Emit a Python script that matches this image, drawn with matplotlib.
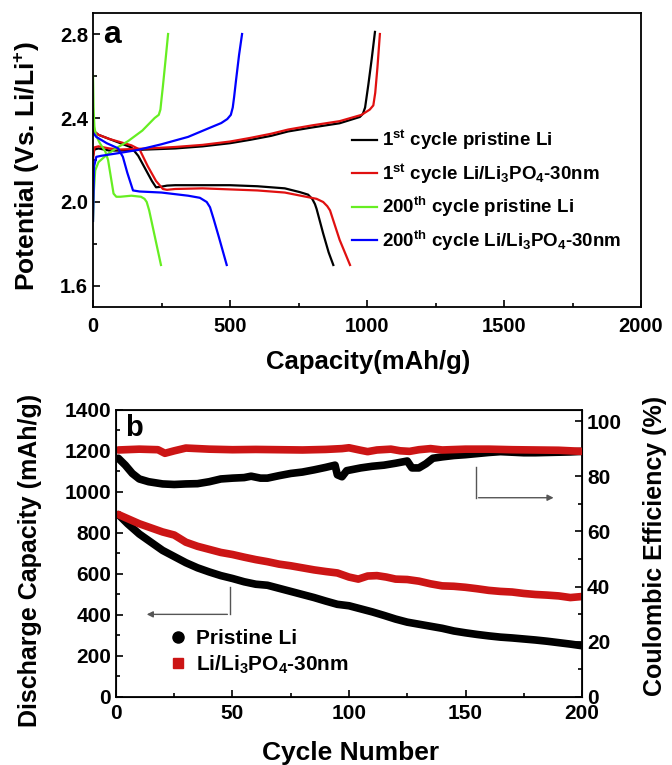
import numpy as np
import matplotlib
matplotlib.use("Agg")
import matplotlib.pyplot as plt
from matplotlib.lines import Line2D
from matplotlib.ticker import MultipleLocator

plt.rcParams['font.family'] = ['Liberation Sans', 'DejaVu Sans']
plt.rcParams['font.weight'] = 'bold'
plt.rcParams['mathtext.fontset'] = 'custom'
plt.rcParams['mathtext.rm'] = 'Liberation Sans:bold'
plt.rcParams['mathtext.bf'] = 'Liberation Sans:bold'
plt.rcParams['mathtext.default'] = 'bf'

# ---- panel a: charge / discharge profiles (capacity mAh/g, potential V)
p1_dis_cap = [0, 20, 60, 100, 140, 165, 190, 215, 230, 245, 270, 300, 400, 500, 600, 700, 755, 785, 800, 810, 816, 840, 860, 877]
p1_dis_v = [2.34, 2.32, 2.30, 2.28, 2.26, 2.22, 2.16, 2.10, 2.07, 2.072, 2.078, 2.08, 2.08, 2.08, 2.075, 2.065, 2.047, 2.035, 2.015, 1.99, 1.967, 1.85, 1.76, 1.70]
p1_chg_cap = [0, 5, 20, 60, 100, 200, 300, 400, 500, 573, 650, 712, 800, 900, 974, 985, 993, 1005, 1017, 1029]
p1_chg_v = [2.22, 2.25, 2.255, 2.245, 2.245, 2.25, 2.255, 2.265, 2.28, 2.296, 2.315, 2.336, 2.355, 2.375, 2.405, 2.42, 2.45, 2.56, 2.68, 2.81]

c1_dis_cap = [0, 20, 60, 100, 140, 170, 200, 230, 255, 270, 300, 400, 500, 600, 700, 816, 840, 855, 865, 900, 938]
c1_dis_v = [2.34, 2.32, 2.30, 2.285, 2.27, 2.25, 2.17, 2.10, 2.062, 2.058, 2.062, 2.065, 2.06, 2.055, 2.045, 2.015, 2.0, 1.98, 1.96, 1.82, 1.70]
c1_chg_cap = [0, 5, 20, 60, 100, 200, 300, 400, 500, 573, 650, 712, 800, 900, 980, 1010, 1023, 1030, 1038, 1047]
c1_chg_v = [2.20, 2.26, 2.265, 2.255, 2.25, 2.255, 2.262, 2.272, 2.288, 2.305, 2.325, 2.345, 2.365, 2.385, 2.415, 2.44, 2.46, 2.52, 2.64, 2.80]

p200_dis_cap = [0, 2, 5, 10, 25, 45, 55, 65, 75, 85, 100, 140, 175, 188, 196, 205, 248]
p200_dis_v = [2.6, 2.45, 2.36, 2.32, 2.28, 2.24, 2.20, 2.12, 2.04, 2.025, 2.025, 2.03, 2.025, 2.015, 2.0, 1.96, 1.70]
p200_chg_cap = [0, 3, 8, 20, 55, 90, 128, 180, 225, 240, 246, 250, 255, 265, 274]
p200_chg_v = [1.91, 2.05, 2.15, 2.19, 2.23, 2.26, 2.29, 2.34, 2.40, 2.415, 2.44, 2.49, 2.55, 2.68, 2.80]

c200_dis_cap = [0, 12, 50, 91, 109, 125, 146, 170, 250, 347, 390, 415, 427, 440, 460, 488]
c200_dis_v = [2.33, 2.31, 2.28, 2.256, 2.215, 2.14, 2.055, 2.05, 2.045, 2.03, 2.02, 2.0, 1.975, 1.92, 1.83, 1.70]
c200_chg_cap = [0, 4, 12, 30, 80, 164, 250, 347, 420, 468, 490, 503, 510, 515, 522, 533, 544]
c200_chg_v = [1.91, 2.17, 2.215, 2.22, 2.23, 2.248, 2.275, 2.31, 2.35, 2.376, 2.395, 2.415, 2.45, 2.50, 2.58, 2.70, 2.80]

labels_a = [r'1$^{st}$ cycle pristine Li',
            r'1$^{st}$ cycle Li/Li$_{3}$PO$_{4}$-30nm',
            r'200$^{th}$ cycle pristine Li',
            r'200$^{th}$ cycle Li/Li$_{3}$PO$_{4}$-30nm']
colors_a = ['black', '#e01010', '#66ee22', '#0000ff']

# ---- panel b: cycling data
pris_cap_cyc = [1, 5, 10, 15, 20, 25, 30, 35, 40, 45, 50, 55, 60, 65, 70, 75, 80, 85, 90, 95, 100,
                105, 110, 115, 120, 125, 130, 135, 140, 145, 150, 155, 160, 165, 170, 175, 180, 185, 190, 195, 200]
pris_cap = [890, 845, 795, 755, 715, 685, 655, 630, 610, 592, 578, 562, 550, 545, 530, 515, 500, 485, 468, 452, 445,
            430, 415, 398, 380, 365, 355, 345, 335, 322, 313, 305, 298, 292, 288, 283, 278, 272, 265, 258, 250]

coat_cap_cyc = [1, 5, 10, 15, 20, 25, 30, 35, 40, 45, 50, 55, 60, 65, 70, 75, 80, 85, 90, 95, 100, 104, 108,
                112, 116, 120, 125, 130, 135, 140, 145, 150, 155, 160, 165, 170, 175, 180, 185, 190, 195, 200]
coat_cap = [890, 870, 845, 825, 805, 790, 755, 735, 720, 705, 695, 682, 670, 660, 648, 640, 630, 620, 612, 605, 585, 575, 590,
            592, 585, 575, 573, 565, 552, 542, 540, 535, 528, 520, 515, 512, 505, 500, 497, 493, 485, 490]

pris_ce_cyc = [1, 4, 7, 10, 14, 20, 25, 30, 35, 40, 45, 50, 55, 58, 62, 65, 70, 75, 80, 85, 90, 94, 95, 97, 99,
               105, 110, 115, 120, 125, 127, 130, 133, 136, 140, 145, 150, 155, 160, 165, 170, 175, 180, 185, 190, 195, 200]
pris_ce = [86.5, 84, 81, 79, 78, 77.2, 77, 77.2, 77.3, 78, 79, 79.3, 79.5, 80, 79.3, 79.3, 80.2, 81, 81.5, 82.3, 83.2, 84, 80.5, 79.8, 82,
           83, 83.6, 84, 84.7, 85.5, 83, 83, 84.5, 86.5, 87, 87.5, 87.8, 88.2, 88.6, 88.9, 88.7, 88.5, 88.5, 88.6, 88.7, 88.8, 89]

coat_ce_cyc = [1, 10, 18, 21, 25, 30, 40, 50, 60, 70, 80, 90, 97, 100, 105, 108, 112, 118, 122, 126, 130, 135,
               140, 150, 160, 170, 180, 190, 200]
coat_ce = [89.5, 89.8, 89.6, 88.3, 89.2, 90.2, 89.8, 89.6, 89.7, 89.6, 89.5, 89.7, 90.0, 90.3, 89.4, 88.9, 89.5, 89.8, 89.2, 89.0, 89.6, 90,
           89.5, 89.8, 89.8, 89.6, 89.5, 89.4, 89.0]

labels_b = ['Pristine Li', r'Li/Li$_{3}$PO$_{4}$-30nm']

fig = plt.figure(figsize=(6.72, 7.65), dpi=100)


def style_ticks(ax, size, pad=3.5):
    ax.tick_params(which='both', direction='in', labelsize=size, width=1.2, pad=pad)
    ax.tick_params(which='major', length=5)
    ax.tick_params(which='minor', length=3)


# ================= panel a
ax_a = fig.add_axes([0.1384, 0.5987, 0.8155, 0.3843])
curves = [(p1_dis_cap, p1_dis_v, p1_chg_cap, p1_chg_v),
          (c1_dis_cap, c1_dis_v, c1_chg_cap, c1_chg_v),
          (p200_dis_cap, p200_dis_v, p200_chg_cap, p200_chg_v),
          (c200_dis_cap, c200_dis_v, c200_chg_cap, c200_chg_v)]
for (dc, dv, cc, cv), col, lab in zip(curves, colors_a, labels_a):
    ax_a.plot(dc, dv, color=col, lw=1.6, label=lab)
    ax_a.plot(cc, cv, color=col, lw=1.6)

ax_a.set_xlim(0, 2000)
ax_a.set_ylim(1.5, 2.9)
ax_a.xaxis.set_major_locator(MultipleLocator(500))
ax_a.xaxis.set_minor_locator(MultipleLocator(250))
ax_a.set_yticks([1.6, 2.0, 2.4, 2.8])
ax_a.yaxis.set_minor_locator(MultipleLocator(0.2))
style_ticks(ax_a, 14.5)
ax_a.tick_params(axis='x', pad=7)
ax_a.set_xlabel('Capacity(mAh/g)', fontsize=18.5, fontweight='bold')
ax_a.set_ylabel(r'Potential (Vs. Li/Li$^{+}$)', fontsize=19, fontweight='bold')
ax_a.xaxis.label.set_verticalalignment('center')
ax_a.yaxis.label.set_verticalalignment('center')
ax_a.xaxis.set_label_coords(0.502, -0.187)
ax_a.yaxis.set_label_coords(-0.120, 0.48)
for s in ax_a.spines.values():
    s.set_linewidth(1.3)
ax_a.text(0.018, 0.975, 'a', transform=ax_a.transAxes, fontsize=23, fontweight='bold', va='top', ha='left')
ax_a.legend(loc='upper left', bbox_to_anchor=(0.455, 0.64), frameon=False, fontsize=13.5, borderpad=0,
            handlelength=1.33, handletextpad=0.27, labelspacing=0.5)

# ================= panel b
ax_b = fig.add_axes([0.1726, 0.0889, 0.6935, 0.3752])
ax_b.plot(pris_cap_cyc, pris_cap, color='black', lw=5.5, solid_capstyle='round')
ax_b.plot(coat_cap_cyc, coat_cap, color='#cc1515', lw=5.5, solid_capstyle='round')
ax_b.set_xlim(0, 200)
ax_b.set_ylim(0, 1400)
ax_b.xaxis.set_major_locator(MultipleLocator(50))
ax_b.xaxis.set_minor_locator(MultipleLocator(25))
ax_b.yaxis.set_major_locator(MultipleLocator(200))
ax_b.yaxis.set_minor_locator(MultipleLocator(100))
style_ticks(ax_b, 15)
ax_b.tick_params(axis='x', pad=5)
ax_b.set_xlabel('Cycle Number', fontsize=19, fontweight='bold')
ax_b.set_ylabel('Discharge Capacity (mAh/g)', fontsize=18, fontweight='bold')
ax_b.xaxis.label.set_verticalalignment('center')
ax_b.yaxis.label.set_verticalalignment('center')
ax_b.xaxis.set_label_coords(0.503, -0.195)
ax_b.yaxis.set_label_coords(-0.185, 0.477)
for s in ax_b.spines.values():
    s.set_linewidth(1.3)

ax_c = ax_b.twinx()
ax_c.plot(pris_ce_cyc, pris_ce, color='black', lw=5.5, solid_capstyle='round')
ax_c.plot(coat_ce_cyc, coat_ce, color='#cc1515', lw=5.5, solid_capstyle='round')
ax_c.set_ylim(0, 104)
ax_c.yaxis.set_major_locator(MultipleLocator(20))
ax_c.yaxis.set_minor_locator(MultipleLocator(10))
style_ticks(ax_c, 15)
ax_c.set_ylabel('Coulombic Efficiency (%)', fontsize=18, fontweight='bold')
ax_c.yaxis.label.set_verticalalignment('center')
ax_c.yaxis.set_label_coords(1.157, 0.526)

ax_b.text(0.02, 0.985, 'b', transform=ax_b.transAxes, fontsize=21, fontweight='bold', va='top', ha='left')

# guide arrows
ax_b.plot([49, 49], [535, 403], color='#555555', lw=1)
ax_b.annotate('', xy=(12, 403), xytext=(49, 403),
              arrowprops=dict(arrowstyle='-|>', color='#555555', lw=1, mutation_scale=9))
ax_c.plot([154.4, 154.4], [83.5, 72.2], color='#555555', lw=1)
ax_c.annotate('', xy=(189, 72.2), xytext=(154.4, 72.2),
              arrowprops=dict(arrowstyle='-|>', color='#555555', lw=1, mutation_scale=9))

handles_b = [Line2D([], [], color='black', marker='o', ls='none', markersize=8),
             Line2D([], [], color='#cc1515', marker='s', ls='none', markersize=7)]
ax_b.legend(handles_b, labels_b, loc='lower left', bbox_to_anchor=(0.083, 0.038), frameon=False, borderpad=0,
            fontsize=15, handletextpad=0.3, labelspacing=0.25, handlelength=1.2)

fig.savefig('out.png', dpi=100)
